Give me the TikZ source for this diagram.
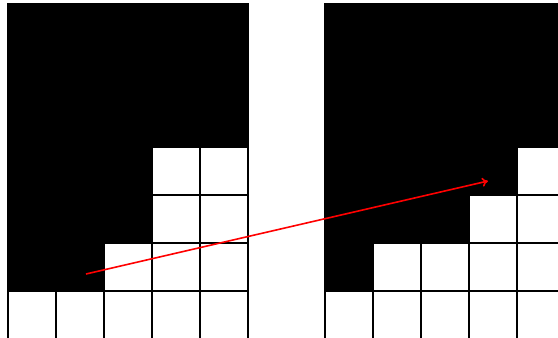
\documentclass[tikz,border=0pt]{standalone}
\usetikzlibrary{arrows.meta}
\begin{document}
\begin{tikzpicture}[x=1pt,y=-1pt,
  cellfill/.style={fill=black},
  gridline/.style={draw=black,line width=1.2pt},
  redarrow/.style={draw=red,line width=1.6pt,-{To[length=6pt,width=9pt]}}]
\useasboundingbox (0,0) rectangle (558,338);
\fill[white] (0,0) rectangle (558,338);
\begin{scope}
\clip (0,0) rectangle (558,338);
% left grid
\fill[cellfill] (8,3) rectangle (248,147);
\fill[cellfill] (8,147) rectangle (152,243);
\fill[cellfill] (8,243) rectangle (104,291);
\foreach \i in {0,...,5} \draw[gridline] ({8+48*\i},3) -- ({8+48*\i},340);
\foreach \j in {0,...,4} \draw[gridline] (8,{147+48*\j}) -- (248,{147+48*\j});
% right grid
\fill[cellfill] (325,3) rectangle (565,147);
\fill[cellfill] (325,147) rectangle (517,195);
\fill[cellfill] (325,195) rectangle (469,243);
\fill[cellfill] (325,243) rectangle (373,291);
\foreach \i in {0,...,5} \draw[gridline] ({325+48*\i},3) -- ({325+48*\i},340);
\foreach \j in {0,...,4} \draw[gridline] (325,{147+48*\j}) -- (565,{147+48*\j});
\end{scope}
\coordinate (s) at (86,274);
\coordinate (e) at (488,181);
\draw[redarrow] (s) -- (e);
\end{tikzpicture}
\end{document}
